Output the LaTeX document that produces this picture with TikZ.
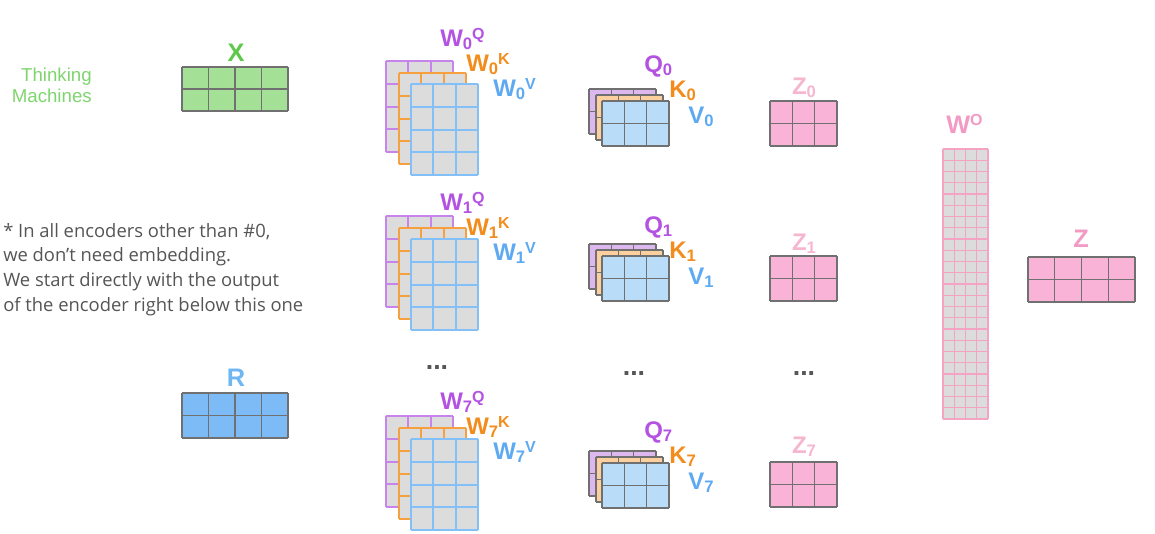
\documentclass[tikz,border=0pt]{standalone}
\usepackage{fontspec}
\setmainfont{Liberation Sans}
\newfontfamily\notefont{Open Sans}
\definecolor{thinkgreen}{HTML}{7ED56E}
\definecolor{xlab}{HTML}{5CC94A}
\definecolor{xgreen}{HTML}{A4E096}
\definecolor{gridgray}{HTML}{707070}
\definecolor{wfill}{HTML}{DCDCDC}
\definecolor{wpurple}{HTML}{C784EA}
\definecolor{worange}{HTML}{F6A040}
\definecolor{wblue}{HTML}{84C0F8}
\definecolor{lpurple}{HTML}{B453E2}
\definecolor{lorange}{HTML}{F28C1C}
\definecolor{lblue}{HTML}{5EAAF2}
\definecolor{qpurple}{HTML}{DDB8EE}
\definecolor{qorange}{HTML}{FBCF9E}
\definecolor{qblue}{HTML}{B9DCF9}
\definecolor{zpink}{HTML}{F9B3D6}
\definecolor{zlab}{HTML}{F6B6D0}
\definecolor{wolab}{HTML}{F29AC4}
\definecolor{wopink}{HTML}{F4A3C3}
\definecolor{rblue}{HTML}{7DBBF7}
\definecolor{rlab}{HTML}{6EB6F4}
\definecolor{notegray}{HTML}{555555}
\tikzset{
  gl/.style={draw=gridgray,line width=1pt,line cap=square},
  wl/.style={line width=1.5pt,line cap=square},
  big/.style={anchor=base,font=\bfseries\fontsize{19}{19}\selectfont},
  lbl/.style={anchor=base west,inner sep=0pt,font=\bfseries\fontsize{18}{18}\selectfont},
  note/.style={anchor=base west,inner sep=0pt,text=notegray,font=\notefont\fontsize{13.8}{16}\selectfont},
  dots/.style={anchor=base,inner sep=0pt,text=notegray,font=\bfseries\fontsize{20}{20}\selectfont}
}
\newcommand{\mblock}[8]{%
  \fill[#7] (#1,#2) rectangle ++(#5,#6);
  \foreach \i in {0,...,#3} \draw[#8] ({#1+\i*#5/#3},#2) -- ++(0,#6);
  \foreach \j in {0,...,#4} \draw[#8] (#1,{#2+\j*#6/#4}) -- ++(#5,0);
}
\newcommand{\lab}[3]{#1\raisebox{-.13em}{\fontsize{12.5}{12.5}\selectfont#2}\raisebox{.27em}{\fontsize{12}{12}\selectfont#3}}
\begin{document}
\begin{tikzpicture}[x=0.75pt,y=-0.75pt]
\useasboundingbox (0,0) rectangle (1155,533);
\node[anchor=base east,inner sep=0pt,text=thinkgreen,font=\fontsize{14}{14}\selectfont] (think) at (92,81) {Thinking};
\node[anchor=base east,inner sep=0pt,text=thinkgreen,font=\fontsize{14}{14}\selectfont] (mach) at (92,102) {Machines};
\foreach \t [count=\k] in {{* In all encoders other than \#0,},{we don’t need embedding.},{We start directly with the output},{of the encoder right below this one}}
  \node[note] (note\k) at (3,{212.3+24.7*\k}) {\t};
\mblock{182}{67}{4}{2}{106}{44}{xgreen}{gl}
\node[big,text=xlab] (X) at (236,61) {X};
\mblock{182}{393}{4}{2}{106}{45}{rblue}{gl}
\node[big,text=rlab] (R) at (236,386) {R};
\foreach \r/\wt/\qt/\zt/\wq/\qq/\zq in {0/61/89/101/46/72/94,1/216/244/256/210/233/250,7/416/451/462/409/438/453}{
  \mblock{386}{\wt}{3}{4}{67}{91}{wfill}{wl,draw=wpurple}
  \mblock{399}{\wt+12}{3}{4}{67}{91}{wfill}{wl,draw=worange}
  \mblock{411}{\wt+23}{3}{4}{67}{91}{wfill}{wl,draw=wblue}
  \node[lbl,text=lpurple] (wq\r) at (440,\wq) {\lab{W}{\r}{Q}};
  \node[lbl,text=lorange] (wk\r) at (466,\wq+25) {\lab{W}{\r}{K}};
  \node[lbl,text=lblue] (wv\r) at (493,\wq+50) {\lab{W}{\r}{V}};
  \mblock{589}{\qt}{3}{2}{67}{45}{qpurple}{gl}
  \mblock{596}{\qt+6}{3}{2}{67}{45}{qorange}{gl}
  \mblock{602}{\qt+12}{3}{2}{67}{45}{qblue}{gl}
  \node[lbl,text=lpurple] (q\r) at (644,\qq) {\lab{Q}{\r}{}};
  \node[lbl,text=lorange] (k\r) at (669,\qq+25) {\lab{K}{\r}{}};
  \node[lbl,text=lblue] (v\r) at (688,\qq+51) {\lab{V}{\r}{}};
  \mblock{770}{\zt}{3}{2}{67}{45}{zpink}{gl}
  \node[lbl,anchor=base,text=zlab] (z\r) at (804,\zq) {\lab{Z}{\r}{}};
}
\node[dots] (wdots) at (437,369) {...};
\node[dots] (qdots) at (634,375) {...};
\node[dots] (zdots) at (804,375) {...};
\mblock{943}{149}{4}{24}{45}{270}{wfill}{line width=1pt,line cap=square,draw=wopink}
\node[lbl,text=wolab,font=\bfseries\fontsize{19}{19}\selectfont] (wo) at (946,133) {W\raisebox{.3em}{\fontsize{12}{12}\selectfont O}};
\mblock{1028}{257}{4}{2}{107}{45}{zpink}{gl}
\node[big,text=wolab] (Z) at (1081,247) {Z};
\end{tikzpicture}
\end{document}
